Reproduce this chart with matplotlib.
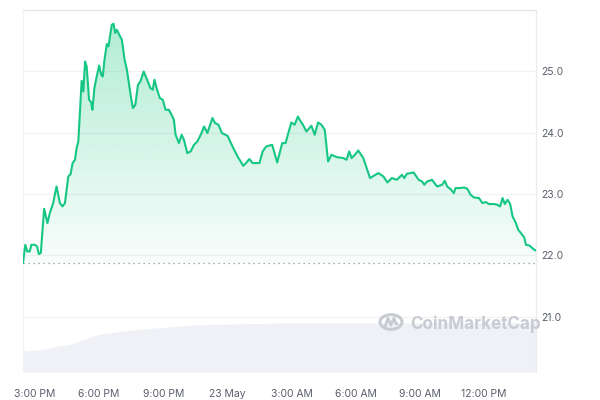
import numpy as np
import matplotlib
matplotlib.use("Agg")
import matplotlib.pyplot as plt
from matplotlib.patches import Circle
from matplotlib.path import Path
from matplotlib.patches import PathPatch

plt.rcParams['font.family'] = ['Inter', 'DejaVu Sans']

# hours relative to 3:00 PM (22 May)
hours = [-0.565, -0.457, -0.363, -0.250, -0.174, -0.014, 0.094, 0.174, 0.268, 0.424,
         0.579, 0.692, 0.847, 1.003, 1.163, 1.285, 1.398, 1.554, 1.662, 1.756,
         1.869, 1.944, 2.024, 2.133, 2.180, 2.260, 2.340, 2.415, 2.528, 2.622,
         2.684, 2.778, 2.886, 2.999, 3.093, 3.169, 3.249, 3.357, 3.437, 3.517,
         3.592, 3.672, 3.752, 3.828, 3.941, 4.063, 4.190, 4.298, 4.411, 4.506,
         4.581, 4.694, 4.816, 4.929, 5.085, 5.240, 5.400, 5.508, 5.589, 5.711,
         5.838, 5.979, 6.106, 6.262, 6.389, 6.497, 6.577, 6.733, 6.860, 6.968,
         7.123, 7.283, 7.439, 7.594, 7.754, 7.910, 8.065, 8.300, 8.427, 8.583,
         8.743, 9.007, 9.242, 9.477, 9.746, 9.873, 10.028, 10.184, 10.499, 10.654,
         10.815, 11.097, 11.332, 11.568, 11.723, 11.992, 12.147, 12.302, 12.382, 12.538,
         12.698, 12.933, 13.089, 13.244, 13.404, 13.559, 13.715, 13.875, 14.110, 14.421,
         14.581, 14.703, 14.816, 14.972, 15.127, 15.363, 15.523, 15.678, 16.069, 16.304,
         16.493, 16.700, 16.935, 17.171, 17.279, 17.406, 17.561, 17.717, 17.844, 17.952,
         18.112, 18.220, 18.348, 18.583, 18.691, 18.819, 19.054, 19.176, 19.289, 19.444,
         19.600, 19.680, 19.915, 20.071, 20.231, 20.386, 20.542, 20.777, 20.937, 21.092,
         21.248, 21.483, 21.643, 21.766, 21.879, 21.987, 22.114, 22.237, 22.350, 22.505,
         22.613, 22.740, 22.895, 22.976, 23.131, 23.244, 23.367, 23.446]

prices = [21.876, 22.174, 22.065, 22.065, 22.174, 22.174, 22.147, 22.023, 22.039, 22.761,
          22.528, 22.691, 22.854, 23.125, 22.854, 22.799, 22.854, 23.288, 23.327, 23.506,
          23.560, 23.751, 23.859, 24.566, 24.848, 24.674, 25.163, 25.081, 24.538, 24.501,
          24.375, 24.729, 24.918, 25.098, 24.946, 24.918, 25.191, 25.447, 25.408, 25.598,
          25.761, 25.778, 25.626, 25.680, 25.598, 25.517, 25.191, 25.028, 24.755, 24.538,
          24.403, 24.457, 24.783, 24.837, 25.000, 24.865, 24.729, 24.702, 24.865, 24.702,
          24.566, 24.538, 24.375, 24.375, 24.294, 24.212, 23.968, 23.832, 23.968, 23.886,
          23.669, 23.696, 23.805, 23.859, 23.968, 24.103, 23.996, 24.240, 24.159, 24.131,
          23.996, 23.951, 23.777, 23.614, 23.462, 23.506, 23.572, 23.506, 23.506, 23.696,
          23.777, 23.805, 23.516, 23.832, 23.832, 24.168, 24.131, 24.266, 24.212, 24.131,
          24.022, 24.115, 23.968, 24.168, 24.131, 24.049, 23.532, 23.642, 23.604, 23.588,
          23.560, 23.696, 23.588, 23.642, 23.712, 23.588, 23.425, 23.262, 23.343, 23.288,
          23.190, 23.262, 23.234, 23.316, 23.262, 23.332, 23.343, 23.353, 23.288, 23.234,
          23.206, 23.153, 23.206, 23.234, 23.180, 23.125, 23.153, 23.218, 23.125, 23.082,
          23.017, 23.099, 23.099, 23.109, 23.087, 22.989, 22.945, 22.936, 22.854, 22.870,
          22.838, 22.838, 22.826, 22.799, 22.936, 22.838, 22.908, 22.838, 22.636, 22.528,
          22.419, 22.365, 22.293, 22.174, 22.163, 22.130, 22.093, 22.081]

# volume (arbitrary units, millions)
vol_hours = [-0.565, -0.424, 0.377, 1.083, 1.789, 2.166, 2.966, 3.908, 4.849, 5.791,
             7.203, 8.380, 12.38, 23.446]
vol_values = [45.4, 42.0, 45.4, 52.0, 56.6, 63.4, 75.4, 80.6, 85.4, 88.6,
              93.4, 95.4, 98.6, 98.6]

tick_hours = [0, 3, 6, 9, 12, 15, 18, 21]
tick_labels = ['3:00 PM', '6:00 PM', '9:00 PM', '23 May', '3:00 AM', '6:00 AM', '9:00 AM', '12:00 PM']
y_ticks = [21.0, 22.0, 23.0, 24.0, 25.0]

GREEN = '#16c784'
pos = [23/600, 1 - 372/400, (536 - 23)/600, (372 - 9.5)/400]
xlim = (hours[0], hours[-1])
ylim = (20.10, 26.01)

fig = plt.figure(figsize=(6, 4), dpi=100)

# volume axis underneath
axv = fig.add_axes(pos)
axv.fill_between(vol_hours, 0, vol_values, color='#eff1f6', lw=0)
axv.set_xlim(xlim)
axv.set_ylim(0, (372 - 9.5) * 2)
axv.axis('off')

ax = fig.add_axes(pos)
ax.patch.set_visible(False)
ax.set_xlim(xlim)
ax.set_ylim(ylim)

base = prices[0]

# gradient fill under line
poly = ax.fill_between(hours, base, prices, color='none', lw=0)
ymax = max(prices)
n = 256
grad = np.linspace(0, 1, n).reshape(-1, 1)  # 0 at bottom, 1 at top
g = np.array([22, 199, 132]) / 255.0
img = np.zeros((n, 1, 4))
img[..., 0] = g[0]
img[..., 1] = g[1]
img[..., 2] = g[2]
img[..., 3] = 0.03 + 0.30 * grad
im = ax.imshow(img, extent=[xlim[0], xlim[1], base, ymax], origin='lower',
               aspect='auto', zorder=1, interpolation='bilinear')
clip = poly.get_paths()[0]
im.set_clip_path(clip, transform=ax.transData)

ax.plot(hours, prices, color=GREEN, lw=1.5, zorder=3, solid_joinstyle='round')
ax.axhline(base, color='#8a8f99', lw=0.9, ls=(0, (1, 3)), zorder=2)

ax.set_yticks(y_ticks)
ax.set_yticklabels([f'{v:.1f}' for v in y_ticks])
ax.yaxis.tick_right()
ax.set_xticks(tick_hours)
ax.set_xticklabels(tick_labels)
ax.tick_params(axis='both', length=0, labelsize=7.5, colors='#5a5f6b')
ax.tick_params(axis='x', pad=12)
ax.tick_params(axis='y', pad=4)
ax.grid(axis='y', color='#f2f2f2', lw=0.9, zorder=0)
ax.set_axisbelow(True)

ax.spines['bottom'].set_visible(False)
ax.spines['top'].set_color('#e6e6e6')
ax.spines['right'].set_color('#ececec')
ax.spines['left'].set_color('#f3f3f3')
for s in ['top', 'right', 'left']:
    ax.spines[s].set_linewidth(0.9)

# watermark
wm_color = '#c8cbd2'
circ = Circle((391/600, 1 - 322/400), 11/600, transform=fig.transFigure,
              fill=False, ec=wm_color, lw=2.2, zorder=5)
fig.patches.append(circ)
cx, cy = 391, 322
pts = [(cx - 6, cy + 5), (cx - 3, cy - 4), (cx, cy + 3), (cx + 3, cy - 4), (cx + 5, cy + 2), (cx + 7, cy + 1)]
verts = [(x/600, 1 - y/400) for x, y in pts]
path = Path(verts)
fig.patches.append(PathPatch(path, transform=fig.transFigure, fill=False,
                             ec=wm_color, lw=2.0, zorder=5, joinstyle='round'))
fig.text(410/600, 1 - 324/400, 'CoinMarketCap', color=wm_color, fontsize=12.3,
         fontweight='bold', va='center', ha='left')

fig.savefig('out.png', dpi=100)
